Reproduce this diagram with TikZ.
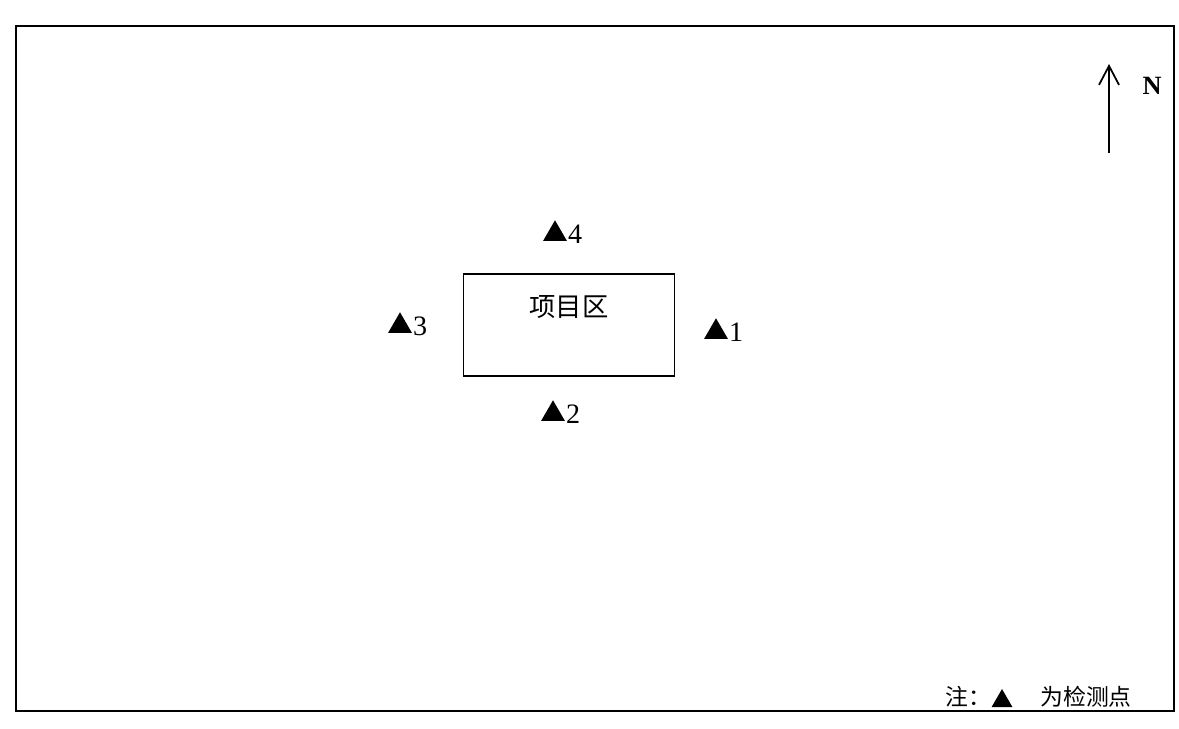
\documentclass[tikz,border=0pt]{standalone}
\usepackage{fontspec}
\setmainfont{Liberation Serif}
\newfontfamily\cjk{Noto Sans CJK SC}
\usetikzlibrary{arrows.meta, positioning, shapes.geometric}

\begin{document}
\begin{tikzpicture}[
  x=0.02cm, y=-0.02cm,
  station/.style={regular polygon, regular polygon sides=3, fill=black, inner sep=0pt, minimum size=5.5mm},
  num/.style={font=\fontsize{16}{16}\selectfont, inner sep=0pt},
  area/.style={draw, line width=1pt, minimum width=4.22cm, minimum height=2.04cm},
  cn/.style={font=\cjk\fontsize{15}{15}\selectfont, inner sep=0pt},
  note/.style={font=\cjk\fontsize{13}{13}\selectfont, inner sep=0pt},
  arrow/.style={-{Straight Barb[length=3.8mm, width=4mm]}, line width=1pt}
]
\useasboundingbox (0,0) rectangle (1179,729);
\draw[line width=1.3pt] (16,26) rectangle (1174,711);

% project area
\node[area] (site) at (569,325) {};
\node[cn] (sitename) at (569,307) {项目区};

% monitoring points
\node[station] (p1) at (716,332) {};
\node[num, right=0.9mm of p1] (n1) {1};
\node[station] (p2) at (553,414) {};
\node[num, right=0.9mm of p2] (n2) {2};
\node[station] (p3) at (400,326) {};
\node[num, right=0.9mm of p3] (n3) {3};
\node[station] (p4) at (555,234) {};
\node[num, right=0.9mm of p4] (n4) {4};

% north arrow
\coordinate (ntail) at (1109,153);
\coordinate (ntip) at (1109,64);
\draw[arrow] (ntail) -- (ntip);
\node[font=\bfseries\fontsize{15}{15}\selectfont, inner sep=0pt] (north) at (1152,86) {N};

% legend
\node[note, anchor=west] (legend) at (945,697) {注：};
\node[station, minimum size=4.8mm] (legtri) at (1002,701) {};
\node[note, anchor=west] (legtext) at (1040,697) {为检测点};
\end{tikzpicture}
\end{document}
